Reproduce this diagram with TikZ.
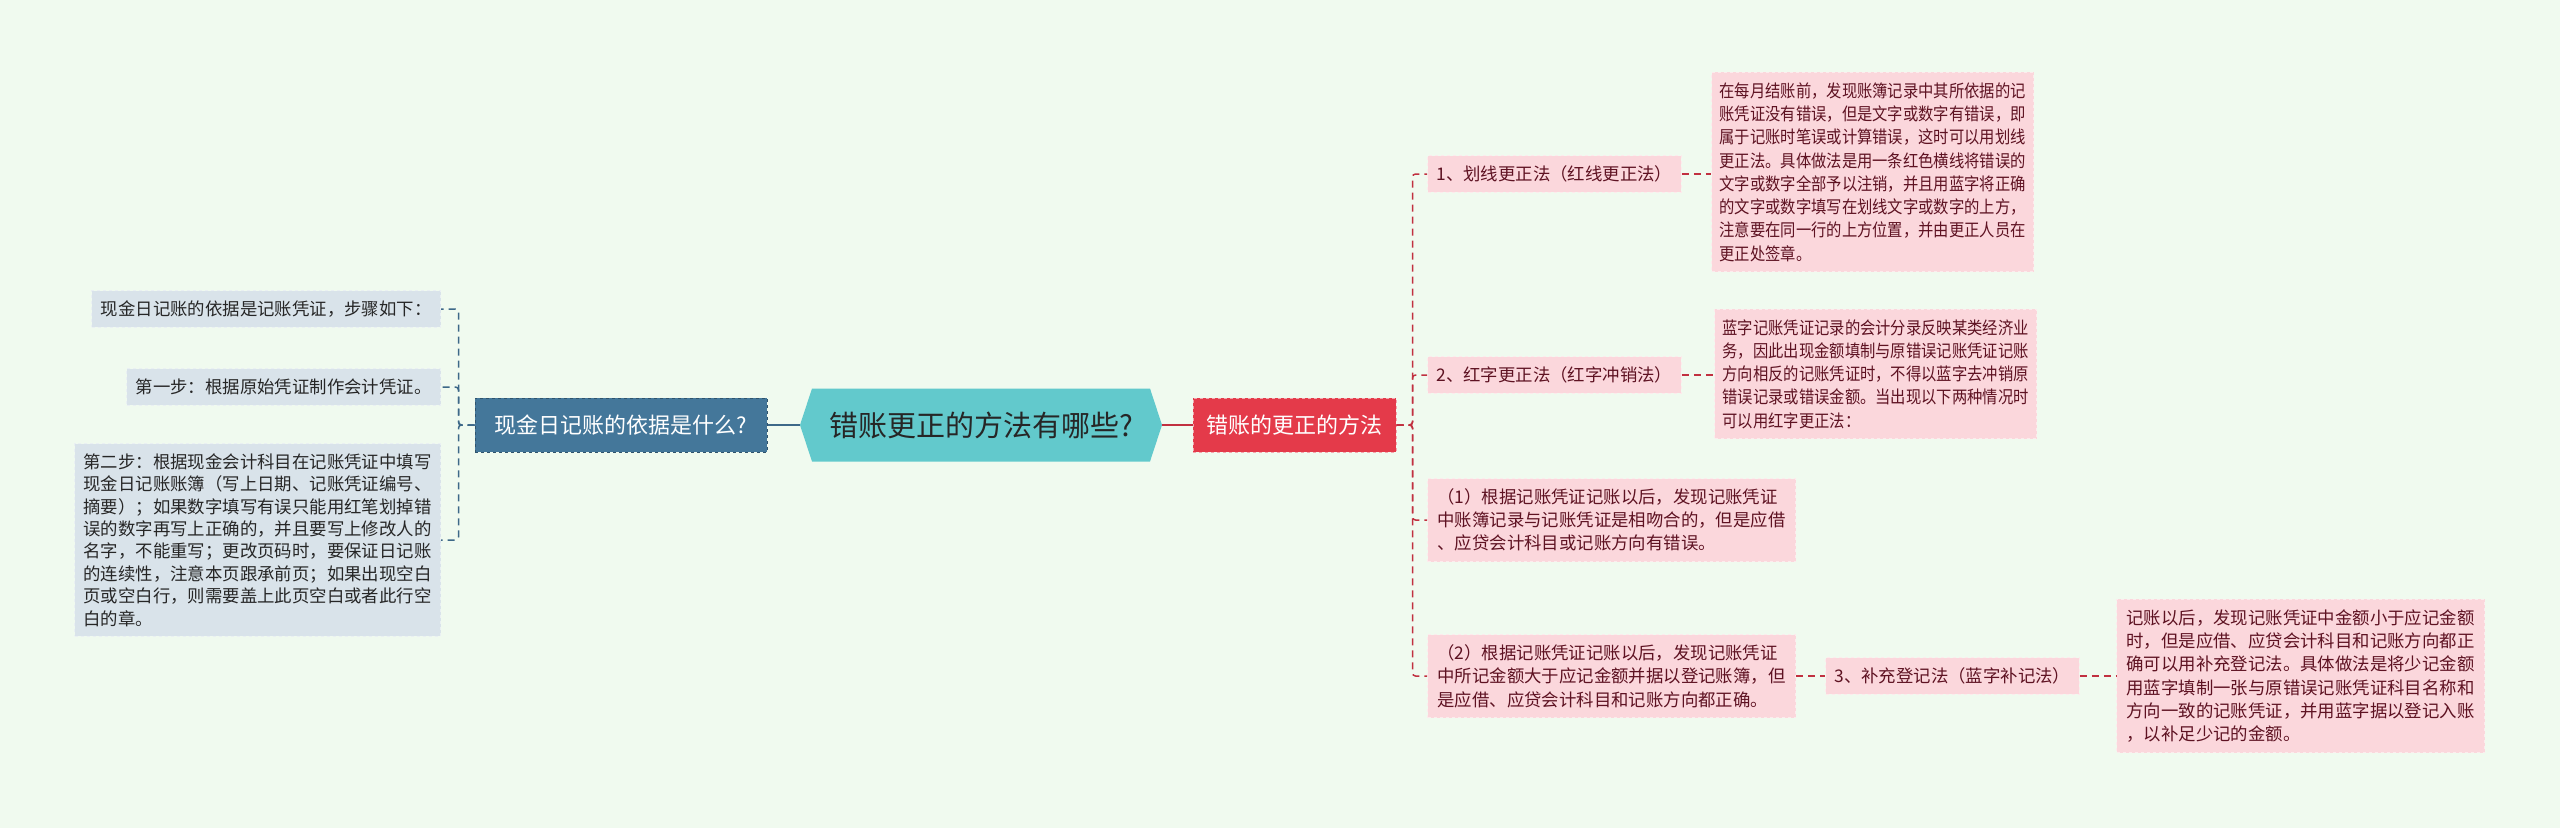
\documentclass[tikz,border=0pt]{standalone}
\usepackage{fontspec}
\setmainfont{Noto Sans CJK SC}
\newfontfamily\narrowcjk[FakeStretch=0.88]{Noto Sans CJK SC}
\usetikzlibrary{arrows.meta,positioning,calc,shapes.symbols}
\definecolor{bgcol}{HTML}{F0FAEF}
\definecolor{leafblue}{HTML}{D9E3EA}
\definecolor{nodeblue}{HTML}{44779A}
\definecolor{linkblue}{HTML}{3D6888}
\definecolor{hexcol}{HTML}{62C9CC}
\definecolor{nodered}{HTML}{E43A4A}
\definecolor{linkred}{HTML}{C13040}
\definecolor{leafpink}{HTML}{FBD7DC}
\definecolor{pinktext}{HTML}{5E1222}

\begin{document}
\begin{tikzpicture}[x=1pt, y=-1pt,
    lleaf/.style={fill=leafblue, draw=white!45!leafblue, dashed, line width=1pt, text=black!85, font=\fontsize{17.4}{22.4}\selectfont, inner xsep=9pt, inner ysep=10pt, align=left, anchor=east},
    rleaf/.style={fill=leafpink, draw=white!50!leafpink, dashed, line width=1pt, text=pinktext, font=\fontsize{17.4}{23.3}\selectfont, inner xsep=9pt, inner ysep=10pt, align=left, anchor=west},
    rnarrow/.style={rleaf, font=\narrowcjk\fontsize{17.4}{23.3}\selectfont, inner xsep=8pt},
    lconn/.style={linkblue, line width=1.5pt, dash pattern=on 7pt off 5pt, rounded corners=3pt},
    rconn/.style={linkred, line width=1.5pt, dash pattern=on 7pt off 5pt, rounded corners=3pt},
]
\fill[bgcol] (0,0) rectangle (2560,828);
\useasboundingbox (0,0) rectangle (2560,828);

% centre and main branches
\node[signal, signal to=east and west, signal pointer angle=143.6, fill=hexcol, text=black!85, minimum width=362pt, minimum height=73pt, inner sep=0pt, font=\fontsize{29}{34}\selectfont] (q) at (981,425) {错账更正的方法有哪些?};
\node[fill=nodeblue, draw=nodeblue!70!black, dashed, line width=1pt, text=white, minimum width=292pt, minimum height=54pt, font=\fontsize{22}{26}\selectfont] (basis) at (621,425) {现金日记账的依据是什么?};
\node[fill=nodered, draw=nodered!45!white, dashed, line width=1pt, text=white, minimum width=203pt, minimum height=54pt, font=\fontsize{22}{26}\selectfont] (fix) at (1294.5,425) {错账的更正的方法};
\draw[linkblue, line width=2pt] (q.west) -- (basis.east);
\draw[linkred, line width=2pt] (q.east) -- (fix.east -| fix.west);

% left side
\node[lleaf] (s0) at (441,309) {现金日记账的依据是记账凭证，步骤如下：};
\node[lleaf] (s1) at (441,387) {第一步：根据原始凭证制作会计凭证。};
\node[lleaf] (s2) at (441,540) {第二步：根据现金会计科目在记账凭证中填写\\现金日记账账簿（写上日期、记账凭证编号、\\摘要）；如果数字填写有误只能用红笔划掉错\\误的数字再写上正确的，并且要写上修改人的\\名字，不能重写；更改页码时，要保证日记账\\的连续性，注意本页跟承前页；如果出现空白\\页或空白行，则需要盖上此页空白或者此行空\\白的章。};
\foreach \s in {s0,s1,s2}
  \draw[lconn] (basis.west) -- ++(-16,0) |- (\s.east);

% right side
\node[rleaf] (m1) at (1427,174) {1、划线更正法（红线更正法）};
\node[rleaf] (m2) at (1427,375) {2、红字更正法（红字冲销法）};
\node[rleaf, inner xsep=10pt] (p1) at (1427,520) {（1）根据记账凭证记账以后，发现记账凭证\\中账簿记录与记账凭证是相吻合的，但是应借\\、应贷会计科目或记账方向有错误。};
\node[rleaf, inner xsep=10pt] (p2) at (1427,676) {（2）根据记账凭证记账以后，发现记账凭证\\中所记金额大于应记金额并据以登记账簿，但\\是应借、应贷会计科目和记账方向都正确。};
\node[rleaf] (m3) at (1825,676) {3、补充登记法（蓝字补记法）};
\node[rnarrow] (d1) at (1711,172) {在每月结账前，发现账簿记录中其所依据的记\\账凭证没有错误，但是文字或数字有错误，即\\属于记账时笔误或计算错误，这时可以用划线\\更正法。具体做法是用一条红色横线将错误的\\文字或数字全部予以注销，并且用蓝字将正确\\的文字或数字填写在划线文字或数字的上方，\\注意要在同一行的上方位置，并由更正人员在\\更正处签章。};
\node[rnarrow] (d2) at (1714,374) {蓝字记账凭证记录的会计分录反映某类经济业\\务，因此出现金额填制与原错误记账凭证记账\\方向相反的记账凭证时，不得以蓝字去冲销原\\错误记录或错误金额。当出现以下两种情况时\\可以用红字更正法：};
\node[rleaf, inner xsep=10pt] (d3) at (2116,676) {记账以后，发现记账凭证中金额小于应记金额\\时，但是应借、应贷会计科目和记账方向都正\\确可以用补充登记法。具体做法是将少记金额\\用蓝字填制一张与原错误记账凭证科目名称和\\方向一致的记账凭证，并用蓝字据以登记入账\\，以补足少记的金额。};

\foreach \m in {m1,m2,p1,p2}
  \draw[rconn] (fix.east) -- ++(16,0) |- (\m.west);
\draw[rconn] (m1.east) -- (m1.east -| d1.west);
\draw[rconn] (m2.east) -- (m2.east -| d2.west);
\draw[rconn] (p2.east) -- (p2.east -| m3.west);
\draw[rconn] (m3.east) -- (m3.east -| d3.west);
\end{tikzpicture}
\end{document}
